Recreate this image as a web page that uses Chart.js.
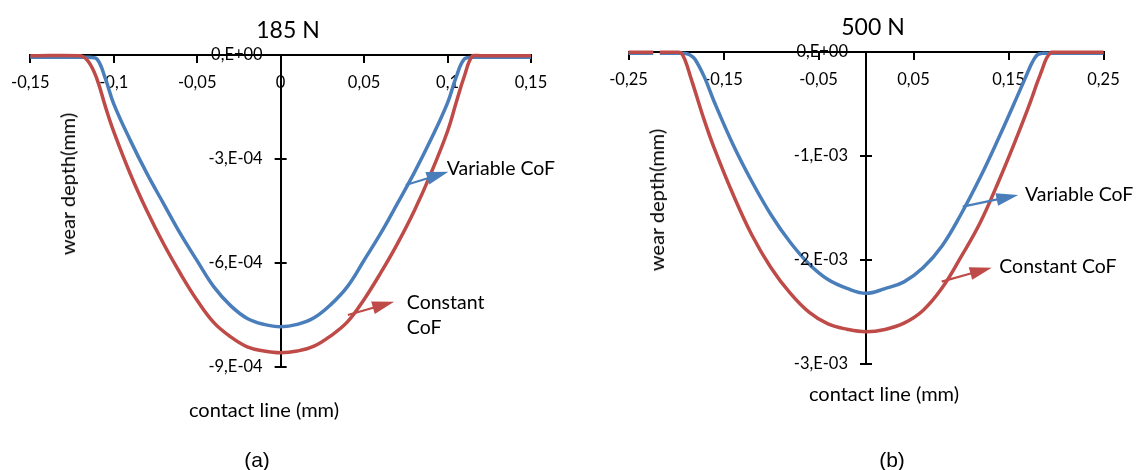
<!DOCTYPE html>
<html>
<head>
<meta charset="utf-8">
<script src="https://cdn.jsdelivr.net/npm/chart.js@4.4.1/dist/chart.umd.min.js"></script>
<style>
  html, body { margin: 0; padding: 0; background: #fff; }
  #page { position: relative; width: 1136px; height: 470px; overflow: hidden; }
  canvas { position: absolute; top: 0; }
  .t { position: absolute; font-family: Lato; font-size: 20px; color: #000; white-space: nowrap; transform: translate(-50%, -50%); }
  .rot { transform: translate(-50%, -50%) rotate(-90deg); }
  .ttl { font-size: 23px; }
  .cap { font-family: "Liberation Sans"; font-size: 21px; }
</style>
</head>
<body>
<div id="page">
  <canvas id="c185" width="568" height="470" style="left:0"></canvas>
  <canvas id="c500" width="568" height="470" style="left:568px"></canvas>
  <div class="t ttl" style="left:288px;top:29px">185 N</div>
  <div class="t rot" style="left:67px;top:184px">wear depth(mm)</div>
  <div class="t" style="left:264px;top:409px">contact line (mm)</div>
  <div class="t cap" style="left:257px;top:460px">(a)</div>
  <div class="t ttl" style="left:873px;top:26px">500 N</div>
  <div class="t rot" style="left:656px;top:200px">wear depth(mm)</div>
  <div class="t" style="left:884px;top:393px">contact line (mm)</div>
  <div class="t cap" style="left:892px;top:460px">(b)</div>
</div>
<script>
// (a) 185 N - contact line (mm) vs wear depth (mm)
const x185 = [-0.15, -0.12, -0.115, -0.11, -0.105, -0.10, -0.09, -0.08, -0.07, -0.06, -0.05, -0.04, -0.03, -0.02, -0.01, 0,
              0.01, 0.02, 0.03, 0.04, 0.05, 0.06, 0.07, 0.08, 0.09, 0.10, 0.105, 0.11, 0.115, 0.12, 0.15];
const variable185 = [-0.067e-4, -0.067e-4, -0.067e-4, -0.12e-4, -0.68e-4, -1.41e-4, -2.47e-4, -3.43e-4, -4.30e-4, -5.16e-4,
                     -5.94e-4, -6.69e-4, -7.23e-4, -7.60e-4, -7.77e-4, -7.84e-4,
                     -7.77e-4, -7.58e-4, -7.20e-4, -6.68e-4, -5.92e-4, -5.14e-4, -4.28e-4, -3.40e-4, -2.44e-4, -1.38e-4,
                     -0.66e-4, -0.12e-4, -0.067e-4, -0.067e-4, -0.067e-4];
const constant185 = [-0.02e-4, -0.02e-4, -0.20e-4, -0.70e-4, -1.49e-4, -2.21e-4, -3.44e-4, -4.51e-4, -5.46e-4, -6.31e-4,
                     -7.08e-4, -7.72e-4, -8.13e-4, -8.42e-4, -8.54e-4, -8.59e-4,
                     -8.54e-4, -8.40e-4, -8.10e-4, -7.70e-4, -7.05e-4, -6.28e-4, -5.44e-4, -4.50e-4, -3.42e-4, -2.20e-4,
                     -1.40e-4, -0.62e-4, -0.02e-4, -0.02e-4, -0.02e-4];

// (b) 500 N
const x500 = [-0.25, -0.224, -0.22, -0.217, -0.20, -0.195, -0.19, -0.185, -0.18, -0.17, -0.16, -0.14, -0.12, -0.10, -0.08,
              -0.06, -0.04, -0.02, 0, 0.02, 0.04, 0.06, 0.08, 0.10, 0.12, 0.14, 0.16, 0.17, 0.175, 0.18, 0.185, 0.19,
              0.195, 0.20, 0.25];
const variable500 = [-0.013e-3, -0.013e-3, null, -0.013e-3, -0.013e-3, -0.013e-3, -0.014e-3, -0.03e-3, -0.07e-3, -0.244e-3,
                     -0.473e-3, -0.889e-3, -1.248e-3, -1.565e-3, -1.827e-3, -2.038e-3, -2.188e-3, -2.273e-3, -2.320e-3,
                     -2.275e-3, -2.21e-3, -2.075e-3, -1.865e-3, -1.56e-3, -1.21e-3, -0.82e-3, -0.41e-3, -0.20e-3,
                     -0.10e-3, -0.03e-3, -0.013e-3, -0.013e-3, -0.013e-3, -0.013e-3, -0.013e-3];
const constant500 = [-0.003e-3, -0.003e-3, null, -0.003e-3, -0.003e-3, -0.005e-3, -0.09e-3, -0.23e-3, -0.374e-3, -0.662e-3,
                     -0.919e-3, -1.368e-3, -1.762e-3, -2.074e-3, -2.317e-3, -2.502e-3, -2.615e-3, -2.666e-3, -2.690e-3,
                     -2.668e-3, -2.607e-3, -2.485e-3, -2.27e-3, -1.97e-3, -1.645e-3, -1.235e-3, -0.79e-3, -0.555e-3,
                     -0.43e-3, -0.30e-3, -0.18e-3, -0.06e-3, -0.003e-3, -0.003e-3, -0.003e-3];

// tick values and labels
const xTicks185 = [-0.15, -0.1, -0.05, 0, 0.05, 0.1, 0.15];
const xLabels185 = ['-0,15', '-0,1', '-0,05', '0', '0,05', '0,1', '0,15'];
const yTicks185 = [0, -3e-4, -6e-4, -9e-4];
const yLabels185 = ['0,E+00', '-3,E-04', '-6,E-04', '-9,E-04'];
const xTicks500 = [-0.25, -0.15, -0.05, 0.05, 0.15, 0.25];
const xLabels500 = ['-0,25', '-0,15', '-0,05', '0,05', '0,15', '0,25'];
const yTicks500 = [0, -1e-3, -2e-3, -3e-3];
const yLabels500 = ['0,E+00', '-1,E-03', '-2,E-03', '-3,E-03'];

const BLUE = '#4a7ebb';
const RED = '#be4b48';

Chart.defaults.font.family = 'Lato';

function pairs(xs, ys) {
  return xs.map((x, i) => ({ x: x, y: ys[i] }));
}

// y tick labels / crossing ticks, plus the arrow call-outs
const decor = {
  id: 'decor',
  afterDatasetsDraw(chart, args, o) {
    const ctx = chart.ctx, sx = chart.scales.x, sy = chart.scales.y;
    const x0 = sx.getPixelForValue(0);
    ctx.save();
    ctx.fillStyle = '#000';
    ctx.strokeStyle = '#000';
    ctx.lineWidth = 2;
    ctx.font = '16.5px Lato';
    ctx.textAlign = 'right';
    ctx.textBaseline = 'middle';
    o.yTicks.forEach((v, i) => {
      const py = Math.round(sy.getPixelForValue(v));
      if (v !== 0) {
        ctx.beginPath();
        ctx.moveTo(x0 - 6, py);
        ctx.lineTo(x0 + 6, py);
        ctx.stroke();
      }
      ctx.fillText(o.yLabels[i], x0 - 18, py);
    });

    o.arrows.forEach(a => {
      const x1 = sx.getPixelForValue(a.from[0]), y1 = sy.getPixelForValue(a.from[1]);
      const x2 = sx.getPixelForValue(a.to[0]), y2 = sy.getPixelForValue(a.to[1]);
      const ang = Math.atan2(y2 - y1, x2 - x1), L = 22, W = 6.5;
      const bx = x2 - L * Math.cos(ang), by = y2 - L * Math.sin(ang);
      ctx.strokeStyle = a.color;
      ctx.fillStyle = a.color;
      ctx.lineWidth = 2.2;
      ctx.beginPath();
      ctx.moveTo(x1, y1);
      ctx.lineTo(bx + 3 * Math.cos(ang), by + 3 * Math.sin(ang));
      ctx.stroke();
      ctx.beginPath();
      ctx.moveTo(x2, y2);
      ctx.lineTo(bx + W * Math.sin(ang), by - W * Math.cos(ang));
      ctx.lineTo(bx - W * Math.sin(ang), by + W * Math.cos(ang));
      ctx.closePath();
      ctx.fill();
    });

    ctx.fillStyle = '#000';
    ctx.font = '19.5px Lato';
    ctx.textAlign = 'left';
    o.notes.forEach(n => ctx.fillText(n.text, sx.getPixelForValue(n.at[0]), sy.getPixelForValue(n.at[1])));
    ctx.restore();
  }
};

function makeChart(id, o) {
  return new Chart(document.getElementById(id), {
    type: 'line',
    data: {
      datasets: [
        { label: 'Variable CoF', data: pairs(o.xs, o.blue), borderColor: BLUE, order: 1 },
        { label: 'Constant CoF', data: pairs(o.xs, o.red), borderColor: RED, order: 0 }
      ]
    },
    options: {
      responsive: false,
      animation: false,
      layout: { padding: o.padding },
      elements: { line: { borderWidth: 3.5, tension: 0.4 }, point: { radius: 0 } },
      datasets: { line: { spanGaps: false, clip: false } },
      plugins: {
        legend: { display: false },
        tooltip: { enabled: false },
        title: { display: false },
        decor: { yTicks: o.yTicks, yLabels: o.yLabels, arrows: o.arrows, notes: o.notes }
      },
      scales: {
        x: {
          type: 'linear', min: o.xMin, max: o.xMax, position: { y: 0 },
          afterBuildTicks: s => { s.ticks = o.xTicks.map(v => ({ value: v })); },
          ticks: { autoSkip: false, maxRotation: 0, padding: 11, color: '#000', font: { size: 16.5 },
                   callback: (v, i) => o.xLabels[i] },
          grid: { drawOnChartArea: false, drawTicks: true, tickLength: 7, color: '#000', lineWidth: 2 },
          border: { color: '#000', width: 2 }
        },
        y: {
          type: 'linear', min: o.yMin, max: 0, position: { x: 0 },
          afterBuildTicks: s => { s.ticks = o.yTicks.map(v => ({ value: v })); },
          ticks: { display: false },
          grid: { drawOnChartArea: false, drawTicks: false },
          border: { color: '#000', width: 2 }
        }
      }
    },
    plugins: [decor]
  });
}

makeChart('c185', {
  xs: x185, blue: variable185, red: constant185,
  xMin: -0.15, xMax: 0.15, yMin: -9e-4,
  xTicks: xTicks185, xLabels: xLabels185, yTicks: yTicks185, yLabels: yLabels185,
  padding: { left: 29, right: 37, top: 55, bottom: 103 },
  arrows: [
    { from: [0.075, -3.75e-4], to: [0.1005, -3.37e-4], color: BLUE },
    { from: [0.0403, -7.50e-4], to: [0.068, -7.12e-4], color: RED }
  ],
  notes: [
    { text: 'Variable CoF', at: [0.0995, -3.29e-4] },
    { text: 'Constant', at: [0.0756, -7.16e-4] },
    { text: 'CoF', at: [0.0756, -7.88e-4] }
  ]
});

makeChart('c500', {
  xs: x500, blue: variable500, red: constant500,
  xMin: -0.25, xMax: 0.25, yMin: -3e-3,
  xTicks: xTicks500, xLabels: xLabels500, yTicks: yTicks500, yLabels: yLabels500,
  padding: { left: 60.5, right: 32.5, top: 52, bottom: 106 },
  arrows: [
    { from: [0.1018, -1.487e-3], to: [0.1603, -1.375e-3], color: BLUE },
    { from: [0.0797, -2.208e-3], to: [0.1323, -2.074e-3], color: RED }
  ],
  notes: [
    { text: 'Variable CoF', at: [0.1674, -1.375e-3] },
    { text: 'Constant CoF', at: [0.1403, -2.064e-3] }
  ]
});
</script>
</body>
</html>
